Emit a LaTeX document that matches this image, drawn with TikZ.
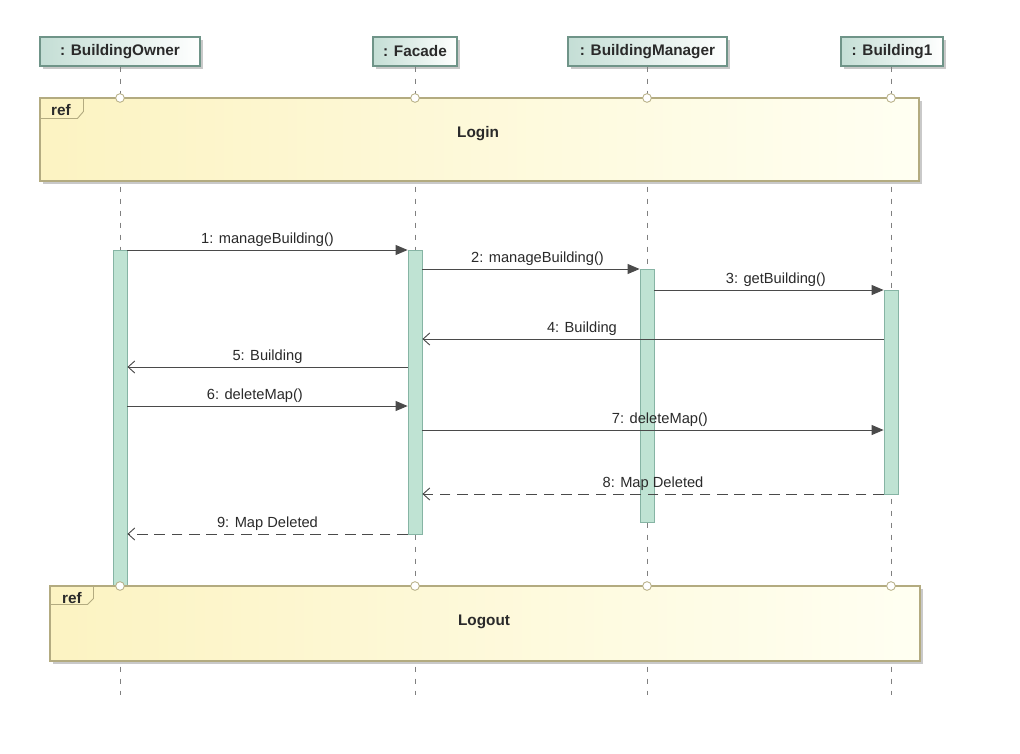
\documentclass[tikz,border=0pt]{standalone}
\usepackage{fontspec}
\setmainfont{Liberation Sans}
\usetikzlibrary{arrows.meta,shadows}
\definecolor{actfill}{HTML}{BFE3D3}
\definecolor{actdraw}{HTML}{86B4A4}
\definecolor{hdrL}{HTML}{C4DED5}
\definecolor{hdrdraw}{HTML}{6F9488}
\definecolor{frmL}{HTML}{FCF3C2}
\definecolor{frmR}{HTML}{FFFFF2}
\definecolor{frmdraw}{HTML}{B3AB80}
\definecolor{msg}{HTML}{4A4A4A}
\definecolor{txt}{HTML}{2A2A2A}
\definecolor{life}{HTML}{808080}
\tikzset{
  hdr/.style={draw=hdrdraw, line width=0.8pt, left color=hdrL, right color=white,
    minimum height=21.75pt, inner sep=0pt, font=\fontsize{11.5}{13}\selectfont\bfseries, text=txt,
    drop shadow={shadow xshift=2pt, shadow yshift=-2pt, fill=black!35, opacity=0.6}},
  act/.style={draw=actdraw, fill=actfill, line width=0.6pt, minimum width=10.5pt, inner sep=0pt},
  frm/.style={draw=frmdraw, line width=0.8pt, left color=frmL, right color=frmR, inner sep=0pt,
    drop shadow={shadow xshift=2pt, shadow yshift=-2pt, fill=black!35, opacity=0.6}},
  reftab/.style={draw=frmdraw, line width=0.7pt},
  lifeline/.style={draw=life, line width=0.6pt, dash pattern=on 4pt off 5pt},
  port/.style={circle, draw=frmdraw, fill=white, line width=0.6pt, minimum size=6.5pt, inner sep=0pt},
  call/.style={draw=msg, line width=0.7pt, -{Triangle[length=9pt,width=7.5pt]}},
  ret/.style={draw=msg, line width=0.7pt, -{Straight Barb[length=5pt,width=9pt]}},
  retd/.style={ret, dash pattern=on 8pt off 5pt},
  lbl/.style={font=\fontsize{11}{12}\selectfont, text=txt, inner sep=1pt, above=1.5pt},
  frmtxt/.style={font=\fontsize{11.5}{13}\selectfont\bfseries, text=txt},
  reftxt/.style={font=\fontsize{11.5}{13}\selectfont\bfseries, text=txt, inner sep=0pt}
}
\begin{document}
\begin{tikzpicture}[x=0.75pt,y=-0.75pt]
\useasboundingbox (0,0) rectangle (1020,753);
\fill[white] (0,0) rectangle (1020,753);

% headers
\node[hdr, minimum width=120pt] (o) at (120,51.5) {: BuildingOwner};
\node[hdr, minimum width=63pt] (f) at (415,51.5) {: Facade};
\node[hdr, minimum width=119.25pt] (m) at (647.5,51.5) {: BuildingManager};
\node[hdr, minimum width=76.5pt] (b) at (892,51.5) {: Building1};

% lifeline ends
\coordinate (oe) at (120,695);
\coordinate (fe) at (415,695);
\coordinate (me) at (647,695);
\coordinate (be) at (891,695);
\draw[lifeline] (o.south -| oe) -- (oe);
\draw[lifeline] (f.south -| fe) -- (fe);
\draw[lifeline] (m.south -| me) -- (me);
\draw[lifeline] (b.south -| be) -- (be);

% Login frame
\node[frm, minimum width=659.25pt, minimum height=62.25pt] (login) at (479.5,139.5) {};
\node[frmtxt] (logintxt) at (478,134) {Login};
\draw[reftab] (login.north west) -- ++(44,0) -- ++(0,14) -- ++(-6,7) -- ++(-38,0);
\node[reftxt] (ref1) at (61,110) {ref};
\node[port] (p1) at (120,98) {};
\node[port] (p2) at (415,98) {};
\node[port] (p3) at (647,98) {};
\node[port] (p4) at (891,98) {};

% activations
\node[act, minimum height=252pt] (aO) at (120,418) {};
\node[act, minimum height=213pt] (aF) at (415,392) {};
\node[act, minimum height=189.75pt] (aM) at (647,395.5) {};
\node[act, minimum height=153pt] (aB) at (891,392) {};

% Logout frame
\node[frm, minimum width=652.5pt, minimum height=56.25pt] (logout) at (485,623.5) {};
\node[frmtxt] (logouttxt) at (484,622) {Logout};
\draw[reftab] (logout.north west) -- ++(44,0) -- ++(0,13) -- ++(-6,6) -- ++(-38,0);
\node[reftxt] (ref2) at (72,598) {ref};
\node[port] (q1) at (120,586) {};
\node[port] (q2) at (415,586) {};
\node[port] (q3) at (647,586) {};
\node[port] (q4) at (891,586) {};

% messages
\draw[call] (aO.east |- 0,250) -- node[lbl, pos=0.5] {1: manageBuilding()} (aF.west |- 0,250);
\draw[call] (aF.east |- 0,269) -- node[lbl, pos=0.53] {2: manageBuilding()} (aM.west |- 0,269);
\draw[call] (aM.east |- 0,290) -- node[lbl, pos=0.53] {3: getBuilding()} (aB.west |- 0,290);
\draw[ret] (aB.west |- 0,339) -- node[lbl, pos=0.654] {4: Building} (aF.east |- 0,339);
\draw[ret] (aF.west |- 0,367) -- node[lbl, pos=0.5] {5: Building} (aO.east |- 0,367);
\draw[call] (aO.east |- 0,406) -- node[lbl, pos=0.455] {6: deleteMap()} (aF.west |- 0,406);
\draw[call] (aF.east |- 0,430) -- node[lbl, pos=0.515] {7: deleteMap()} (aB.west |- 0,430);
\draw[retd] (aB.west |- 0,494) -- node[lbl, pos=0.5] {8: Map Deleted} (aF.east |- 0,494);
\draw[retd] (aF.west |- 0,534) -- node[lbl, pos=0.5] {9: Map Deleted} (aO.east |- 0,534);
\end{tikzpicture}
\end{document}
